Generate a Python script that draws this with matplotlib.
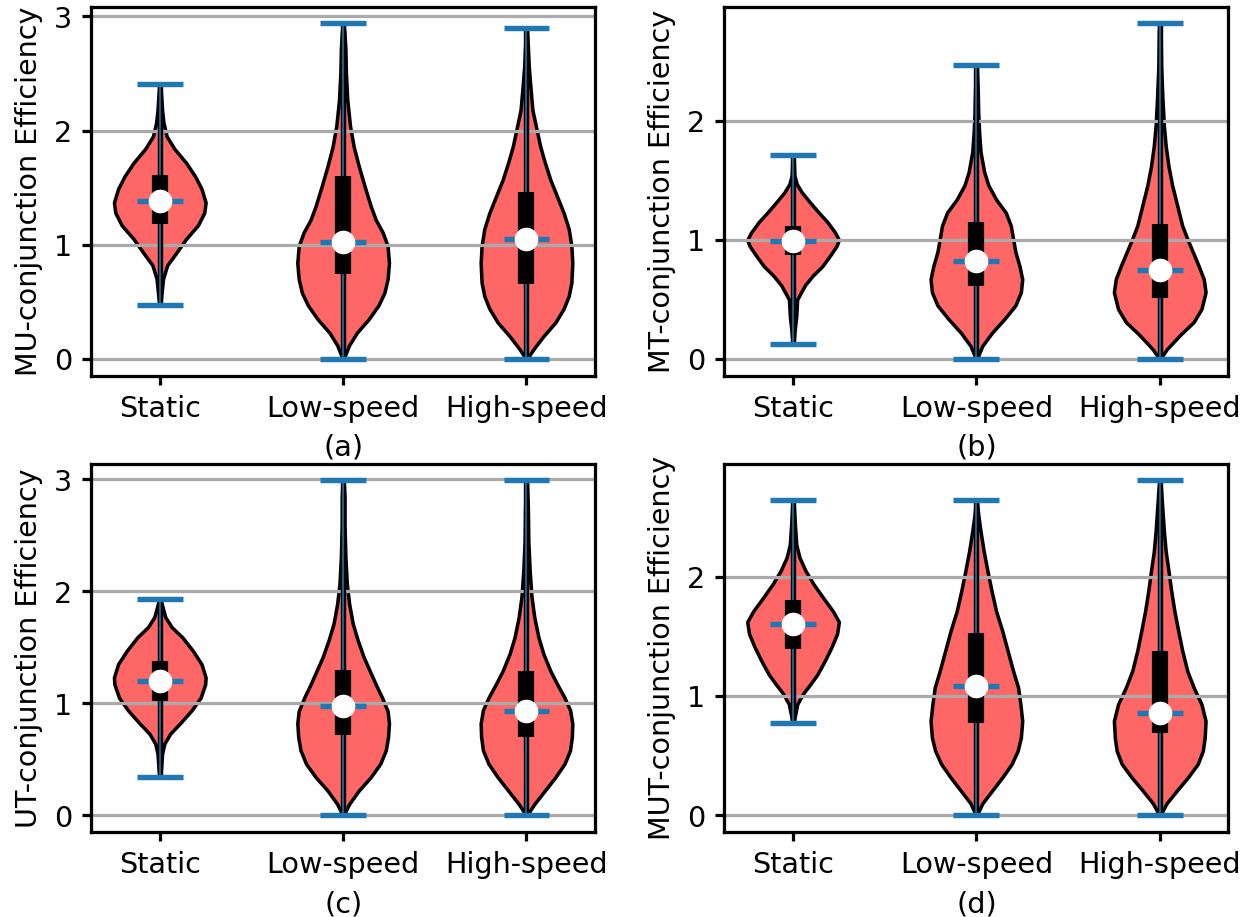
import matplotlib
matplotlib.use("Agg")
import matplotlib.pyplot as plt

# ---------------- data ----------------
CATEGORIES = ["Static", "Low-speed", "High-speed"]
PANEL_LABELS = ["(a)", "(b)", "(c)", "(d)"]
Y_LABELS = ["MU-conjunction Efficiency", "MT-conjunction Efficiency",
            "UT-conjunction Efficiency", "MUT-conjunction Efficiency"]
Y_TICKS_A = [0, 1, 2, 3]
Y_TICKS_B = [0, 1, 2]
Y_TICKS_C = [0, 1, 2, 3]
Y_TICKS_D = [0, 1, 2]

# summary statistics per panel (Static, Low-speed, High-speed)
MU_MIN = [0.47, 0.0, 0.0]
MU_Q1 = [1.18, 0.74, 0.66]
MU_MED = [1.38, 1.025, 1.05]
MU_Q3 = [1.61, 1.60, 1.46]
MU_MAX = [2.41, 2.94, 2.90]

MT_MIN = [0.126, 0.0, 0.0]
MT_Q1 = [0.87, 0.61, 0.51]
MT_MED = [0.99, 0.82, 0.745]
MT_Q3 = [1.12, 1.15, 1.13]
MT_MAX = [1.71, 2.47, 2.82]

UT_MIN = [0.34, 0.0, 0.0]
UT_Q1 = [1.02, 0.72, 0.70]
UT_MED = [1.20, 0.98, 0.93]
UT_Q3 = [1.38, 1.30, 1.29]
UT_MAX = [1.935, 2.99, 2.99]

MUT_MIN = [0.77, 0.0, 0.0]
MUT_Q1 = [1.39, 0.77, 0.69]
MUT_MED = [1.60, 1.08, 0.86]
MUT_Q3 = [1.80, 1.53, 1.38]
MUT_MAX = [2.64, 2.64, 2.805]

# density profiles (y value, relative width)
MU_STATIC_Y = [0.47, 0.58, 0.70, 0.82, 0.93, 1.05, 1.17, 1.28, 1.37, 1.49, 1.60, 1.72, 1.84, 1.95, 2.07, 2.18, 2.30, 2.41]
MU_STATIC_W = [0.01, 0.04, 0.07, 0.16, 0.36, 0.57, 0.83, 0.97, 1.0, 0.91, 0.77, 0.57, 0.32, 0.15, 0.08, 0.05, 0.03, 0.01]
MU_LOW_Y = [0, 0.12, 0.23, 0.35, 0.47, 0.58, 0.70, 0.84, 0.99, 1.11, 1.22, 1.34, 1.51, 1.69, 1.86, 2.04, 2.27, 2.51, 2.71, 2.85, 2.94]
MU_LOW_W = [0.01, 0.13, 0.30, 0.56, 0.77, 0.90, 0.97, 1.0, 0.97, 0.86, 0.71, 0.60, 0.47, 0.34, 0.23, 0.15, 0.09, 0.06, 0.05, 0.03, 0.01]
MU_HIGH_Y = [0, 0.09, 0.20, 0.32, 0.44, 0.55, 0.67, 0.84, 0.99, 1.14, 1.28, 1.43, 1.57, 1.72, 1.86, 2.01, 2.18, 2.36, 2.56, 2.74, 2.90]
MU_HIGH_W = [0.01, 0.16, 0.37, 0.63, 0.81, 0.92, 0.98, 1.0, 0.98, 0.92, 0.81, 0.66, 0.52, 0.40, 0.30, 0.22, 0.13, 0.09, 0.05, 0.03, 0.01]

MT_STATIC_Y = [0.126, 0.22, 0.36, 0.50, 0.62, 0.70, 0.78, 0.87, 0.95, 1.0, 1.06, 1.15, 1.23, 1.32, 1.40, 1.47, 1.54, 1.71]
MT_STATIC_W = [0.01, 0.03, 0.07, 0.09, 0.26, 0.43, 0.64, 0.81, 0.95, 1.0, 0.92, 0.75, 0.56, 0.36, 0.19, 0.08, 0.03, 0.01]
MT_LOW_Y = [0, 0.11, 0.22, 0.34, 0.45, 0.56, 0.67, 0.78, 0.90, 1.01, 1.12, 1.23, 1.34, 1.46, 1.57, 1.74, 1.90, 2.07, 2.24, 2.47]
MT_LOW_W = [0.01, 0.13, 0.34, 0.62, 0.85, 0.97, 1.0, 0.94, 0.85, 0.80, 0.75, 0.64, 0.43, 0.26, 0.17, 0.09, 0.06, 0.04, 0.03, 0.01]
MT_HIGH_Y = [0, 0.08, 0.20, 0.31, 0.42, 0.56, 0.67, 0.78, 0.90, 1.01, 1.12, 1.29, 1.46, 1.62, 1.79, 1.96, 2.18, 2.46, 2.75, 2.82]
MT_HIGH_W = [0.01, 0.15, 0.44, 0.74, 0.91, 1.0, 0.96, 0.85, 0.72, 0.60, 0.49, 0.38, 0.27, 0.19, 0.13, 0.09, 0.06, 0.03, 0.02, 0.01]

UT_STATIC_Y = [0.34, 0.43, 0.55, 0.64, 0.73, 0.82, 0.94, 1.05, 1.17, 1.23, 1.35, 1.47, 1.59, 1.68, 1.77, 1.86, 1.935]
UT_STATIC_W = [0.01, 0.03, 0.05, 0.10, 0.23, 0.44, 0.70, 0.89, 0.99, 1.0, 0.91, 0.72, 0.49, 0.26, 0.12, 0.06, 0.01]
UT_LOW_Y = [0, 0.10, 0.22, 0.34, 0.46, 0.58, 0.70, 0.82, 0.93, 1.05, 1.17, 1.29, 1.41, 1.56, 1.71, 1.89, 2.07, 2.30, 2.60, 2.84, 2.99]
UT_LOW_W = [0.01, 0.13, 0.34, 0.60, 0.81, 0.93, 0.98, 1.0, 0.97, 0.85, 0.71, 0.58, 0.45, 0.32, 0.21, 0.13, 0.08, 0.05, 0.03, 0.03, 0.01]
UT_HIGH_Y = [0, 0.10, 0.22, 0.34, 0.46, 0.58, 0.70, 0.82, 0.94, 1.05, 1.17, 1.29, 1.44, 1.59, 1.77, 1.95, 2.18, 2.45, 2.75, 2.99]
UT_HIGH_W = [0.01, 0.17, 0.40, 0.63, 0.83, 0.95, 0.99, 1.0, 0.95, 0.83, 0.67, 0.52, 0.37, 0.26, 0.17, 0.11, 0.07, 0.04, 0.03, 0.01]

MUT_STATIC_Y = [0.77, 0.85, 0.93, 1.02, 1.10, 1.18, 1.30, 1.41, 1.52, 1.62, 1.71, 1.82, 1.94, 2.05, 2.16, 2.27, 2.44, 2.64]
MUT_STATIC_W = [0.01, 0.05, 0.09, 0.22, 0.38, 0.53, 0.70, 0.84, 0.96, 1.0, 0.87, 0.66, 0.44, 0.27, 0.14, 0.07, 0.04, 0.01]
MUT_LOW_Y = [0, 0.10, 0.21, 0.32, 0.43, 0.54, 0.65, 0.79, 0.93, 1.07, 1.21, 1.38, 1.55, 1.71, 1.88, 2.05, 2.21, 2.38, 2.52, 2.64]
MUT_LOW_W = [0.01, 0.13, 0.35, 0.57, 0.77, 0.90, 0.97, 1.0, 0.96, 0.91, 0.80, 0.68, 0.56, 0.43, 0.33, 0.24, 0.16, 0.09, 0.04, 0.01]
MUT_HIGH_Y = [0, 0.10, 0.21, 0.32, 0.43, 0.54, 0.65, 0.79, 0.93, 1.07, 1.21, 1.38, 1.55, 1.71, 1.88, 2.05, 2.21, 2.38, 2.55, 2.72, 2.805]
MUT_HIGH_W = [0.01, 0.15, 0.38, 0.62, 0.83, 0.94, 0.98, 1.0, 0.91, 0.74, 0.60, 0.49, 0.40, 0.32, 0.25, 0.19, 0.13, 0.09, 0.06, 0.03, 0.01]

# ---------------- styling ----------------
DPI = 194.4
plt.rcParams['font.family'] = ['DejaVu Sans']
plt.rcParams['font.size'] = 10.6
plt.rcParams['axes.linewidth'] = 1.2
plt.rcParams['xtick.major.width'] = 1.2
plt.rcParams['ytick.major.width'] = 1.2

BODY_COLOR = '#FF6666'
BLUE = '#1f77b4'

fig = plt.figure(figsize=(1240.5 / DPI, 917.5 / DPI), dpi=DPI)

AX_RECTS = [
    [91 / 1240, 1 - 376 / 917, 504 / 1240, 369 / 917],
    [724 / 1240, 1 - 376 / 917, 504 / 1240, 369 / 917],
    [91 / 1240, 1 - 832 / 917, 504 / 1240, 368 / 917],
    [724 / 1240, 1 - 832 / 917, 504 / 1240, 368 / 917],
]

PANELS = [
    (MU_MIN, MU_Q1, MU_MED, MU_Q3, MU_MAX,
     [(MU_STATIC_Y, MU_STATIC_W), (MU_LOW_Y, MU_LOW_W), (MU_HIGH_Y, MU_HIGH_W)], Y_TICKS_A),
    (MT_MIN, MT_Q1, MT_MED, MT_Q3, MT_MAX,
     [(MT_STATIC_Y, MT_STATIC_W), (MT_LOW_Y, MT_LOW_W), (MT_HIGH_Y, MT_HIGH_W)], Y_TICKS_B),
    (UT_MIN, UT_Q1, UT_MED, UT_Q3, UT_MAX,
     [(UT_STATIC_Y, UT_STATIC_W), (UT_LOW_Y, UT_LOW_W), (UT_HIGH_Y, UT_HIGH_W)], Y_TICKS_C),
    (MUT_MIN, MUT_Q1, MUT_MED, MUT_Q3, MUT_MAX,
     [(MUT_STATIC_Y, MUT_STATIC_W), (MUT_LOW_Y, MUT_LOW_W), (MUT_HIGH_Y, MUT_HIGH_W)], Y_TICKS_D),
]

positions = [1, 2, 3]

for i, (mins, q1, med, q3, maxs, profiles, yticks) in enumerate(PANELS):
    ax = fig.add_axes(AX_RECTS[i])
    vpstats = []
    for j, (ys, ws) in enumerate(profiles):
        vpstats.append({'coords': ys, 'vals': ws, 'mean': med[j],
                        'median': med[j], 'min': mins[j], 'max': maxs[j]})
    parts = ax.violin(vpstats, positions=positions, widths=0.5,
                      showmeans=False, showextrema=True, showmedians=True)
    for b in parts['bodies']:
        b.set_facecolor(BODY_COLOR)
        b.set_edgecolor('black')
        b.set_linewidth(1.3)
        b.set_joinstyle('round')
        b.set_alpha(1)
        b.set_zorder(1)
    for key in ('cmins', 'cmaxes', 'cmedians'):
        parts[key].set_color(BLUE)
        parts[key].set_linewidth(2.0)
    parts['cmins'].set_zorder(2.2)
    parts['cmaxes'].set_zorder(2.2)
    parts['cmedians'].set_zorder(2.6)
    parts['cbars'].set_color(BLUE)
    parts['cbars'].set_linewidth(0.6)
    parts['cbars'].set_zorder(2.2)

    ax.vlines(positions, mins, maxs, color='black', linewidth=2.0, zorder=2.0)
    ax.vlines(positions, q1, q3, color='black', linewidth=6, zorder=2.4)
    ax.scatter(positions, med, marker='o', color='white', s=60, zorder=3)

    ax.set_yticks(yticks)
    ax.set_xticks(positions)
    ax.set_xticklabels(CATEGORIES)
    ax.yaxis.grid(True, color='#aaaaaa', linewidth=1.2, zorder=1.5)
    ax.set_axisbelow('line')
    ax.set_ylabel(Y_LABELS[i])
    ax.set_xlabel(PANEL_LABELS[i], labelpad=4)

fig.savefig('out.png', dpi=DPI)
